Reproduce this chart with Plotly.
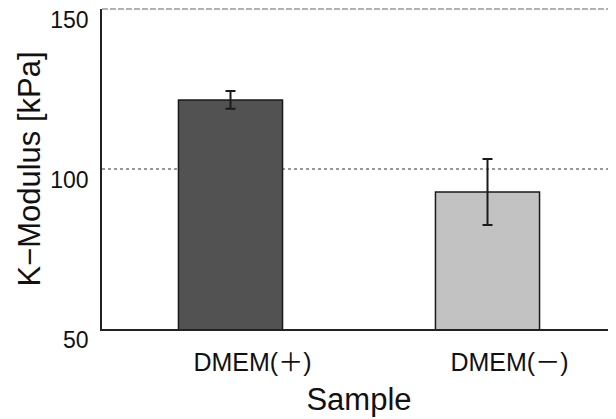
import plotly.graph_objects as go

categories = ["DMEM(＋)", "DMEM(－)"]
values = [121.6, 92.8]
errors = [2.8, 10.3]
bar_colors = ["#525252", "#c2c2c2"]
y_ticks = [50, 100, 150]

FONT = "Liberation Sans, Arial, Noto Sans CJK JP, sans-serif"

fig = go.Figure()
fig.add_trace(go.Bar(
    x=categories, y=values,
    width=0.405,
    marker=dict(color=bar_colors, line=dict(color="#1a1a1a", width=1.5)),
    error_y=dict(type="data", array=errors, visible=True, color="#1a1a1a",
                 thickness=2, width=5),
))

fig.add_hline(y=100, line=dict(color="#333333", width=1, dash="3px,3px"), layer="below")
fig.add_shape(type="line", xref="paper", yref="paper", x0=0, x1=1, y0=1, y1=1,
              line=dict(color="#666666", width=1, dash="6px,2px"))

# page body has an 8px margin, so the figure is sized to fill the rest of the window
fig.update_layout(
    width=608, height=411,
    margin=dict(l=94, r=0, t=1, b=90),
    paper_bgcolor="white", plot_bgcolor="white",
    showlegend=False,
    font=dict(family=FONT, color="#111111"),
    xaxis=dict(
        range=[-0.5, 1.5],
        showline=True, linecolor="#222222", linewidth=1.5,
        showgrid=False, ticks="", automargin=False,
        tickfont=dict(size=25),
        ticklabelshift=22,
        ticklabelstandoff=10,
        title=dict(text="Sample", font=dict(size=31), standoff=14),
    ),
    yaxis=dict(
        range=[50, 150],
        tickvals=y_ticks,
        showline=True, linecolor="#222222", linewidth=1.5,
        showgrid=False, ticks="", zeroline=False, automargin=False,
        tickfont=dict(size=23),
        ticklabelshift=11,
        ticklabelstandoff=7,
        ticklabeloverflow="allow",
        title=dict(text="K−Modulus [kPa]", font=dict(size=31), standoff=0),
    ),
)

fig.write_html("out.html")
